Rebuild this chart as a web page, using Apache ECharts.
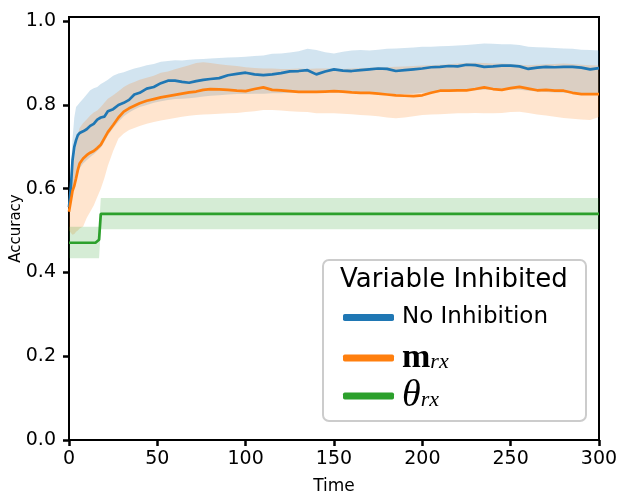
<!DOCTYPE html>
<html>
<head>
<meta charset="utf-8">
<script src="https://cdn.jsdelivr.net/npm/echarts@6/dist/echarts.min.js"></script>
<style>
  html, body { margin: 0; padding: 0; background: #ffffff; }
  #chart { width: 621px; height: 494px; }
</style>
</head>
<body>
<div id="chart"></div>
<script>
// Shared time axis for the two learning curves
const time = [0, 1, 2, 3, 4, 5, 6, 8, 10, 12, 14, 16, 18, 20, 22, 25, 28, 31, 34, 37, 40,
  44, 48, 52, 56, 60, 64, 68, 72, 76, 80, 85, 90, 95, 100, 105, 110, 115, 120, 125, 130,
  135, 140, 145, 150, 155, 160, 165, 170, 175, 180, 185, 190, 195, 200, 205, 210, 215, 220,
  225, 230, 235, 240, 245, 250, 255, 260, 265, 270, 275, 280, 285, 290, 295, 300];

// No inhibition: mean accuracy and the shaded spread
const noInhMean = [0.556, 0.600, 0.668, 0.700, 0.716, 0.728, 0.733, 0.737, 0.742, 0.750, 0.755,
  0.765, 0.770, 0.772, 0.785, 0.790, 0.800, 0.805, 0.812, 0.825, 0.829, 0.839, 0.843, 0.852,
  0.858, 0.858, 0.855, 0.853, 0.857, 0.860, 0.862, 0.864, 0.871, 0.874, 0.877, 0.873, 0.871,
  0.873, 0.876, 0.880, 0.881, 0.883, 0.873, 0.880, 0.885, 0.882, 0.881, 0.883, 0.885, 0.887,
  0.886, 0.881, 0.883, 0.885, 0.887, 0.890, 0.891, 0.893, 0.892, 0.896, 0.895, 0.891, 0.892,
  0.894, 0.894, 0.892, 0.886, 0.889, 0.891, 0.890, 0.891, 0.891, 0.889, 0.885, 0.888];
const noInhHigh = [0.570, 0.640, 0.720, 0.770, 0.795, 0.800, 0.805, 0.815, 0.825, 0.835, 0.840,
  0.843, 0.850, 0.855, 0.860, 0.870, 0.875, 0.878, 0.883, 0.887, 0.890, 0.895, 0.898, 0.903,
  0.905, 0.907, 0.906, 0.908, 0.909, 0.910, 0.911, 0.912, 0.913, 0.914, 0.915, 0.917, 0.918,
  0.922, 0.923, 0.925, 0.928, 0.934, 0.931, 0.926, 0.923, 0.927, 0.930, 0.931, 0.930, 0.932,
  0.934, 0.935, 0.936, 0.937, 0.939, 0.939, 0.940, 0.941, 0.942, 0.943, 0.945, 0.947, 0.946,
  0.945, 0.945, 0.943, 0.939, 0.938, 0.937, 0.936, 0.935, 0.934, 0.932, 0.931, 0.930];
const noInhLow = [0.540, 0.560, 0.590, 0.605, 0.620, 0.635, 0.648, 0.660, 0.668, 0.676, 0.682,
  0.690, 0.698, 0.712, 0.727, 0.745, 0.760, 0.773, 0.782, 0.789, 0.795, 0.800, 0.805, 0.809,
  0.812, 0.814, 0.815, 0.816, 0.818, 0.820, 0.822, 0.823, 0.825, 0.826, 0.826, 0.827, 0.827,
  0.828, 0.828, 0.829, 0.829, 0.829, 0.829, 0.830, 0.830, 0.830, 0.829, 0.828, 0.828, 0.827,
  0.826, 0.825, 0.826, 0.827, 0.829, 0.830, 0.831, 0.832, 0.833, 0.834, 0.835, 0.836, 0.836,
  0.836, 0.836, 0.836, 0.834, 0.832, 0.831, 0.830, 0.829, 0.828, 0.826, 0.825, 0.825];

// m_rx inhibited
const mMean = [0.545, 0.570, 0.595, 0.607, 0.625, 0.645, 0.660, 0.672, 0.680, 0.686, 0.690,
  0.697, 0.705, 0.720, 0.735, 0.752, 0.770, 0.784, 0.792, 0.798, 0.804, 0.810, 0.814, 0.818,
  0.821, 0.824, 0.827, 0.830, 0.832, 0.836, 0.838, 0.837, 0.836, 0.834, 0.833, 0.838, 0.842,
  0.836, 0.835, 0.833, 0.831, 0.831, 0.831, 0.832, 0.833, 0.832, 0.830, 0.829, 0.829, 0.827,
  0.825, 0.823, 0.822, 0.821, 0.823, 0.829, 0.834, 0.834, 0.835, 0.835, 0.838, 0.842, 0.838,
  0.836, 0.840, 0.843, 0.839, 0.835, 0.836, 0.834, 0.834, 0.829, 0.826, 0.826, 0.826];
const mHigh = [0.560, 0.600, 0.640, 0.670, 0.700, 0.730, 0.745, 0.757, 0.765, 0.775, 0.782,
  0.787, 0.795, 0.805, 0.815, 0.823, 0.833, 0.843, 0.850, 0.855, 0.860, 0.865, 0.870, 0.877,
  0.880, 0.885, 0.890, 0.895, 0.900, 0.902, 0.900, 0.897, 0.895, 0.893, 0.890, 0.888, 0.887,
  0.887, 0.886, 0.886, 0.887, 0.886, 0.887, 0.887, 0.887, 0.886, 0.887, 0.888, 0.889, 0.890,
  0.890, 0.891, 0.892, 0.893, 0.894, 0.895, 0.896, 0.897, 0.899, 0.900, 0.901, 0.900, 0.899,
  0.899, 0.898, 0.896, 0.895, 0.896, 0.897, 0.898, 0.899, 0.898, 0.896, 0.895, 0.894];
const mLow = [0.500, 0.495, 0.490, 0.492, 0.497, 0.500, 0.505, 0.510, 0.530, 0.545, 0.560,
  0.580, 0.600, 0.625, 0.655, 0.690, 0.720, 0.732, 0.740, 0.745, 0.750, 0.755, 0.759, 0.763,
  0.766, 0.769, 0.772, 0.774, 0.776, 0.777, 0.778, 0.779, 0.780, 0.781, 0.783, 0.785, 0.788,
  0.788, 0.787, 0.785, 0.784, 0.783, 0.780, 0.780, 0.780, 0.779, 0.778, 0.776, 0.775, 0.773,
  0.770, 0.768, 0.770, 0.773, 0.776, 0.777, 0.778, 0.779, 0.780, 0.780, 0.781, 0.780, 0.780,
  0.781, 0.783, 0.784, 0.781, 0.777, 0.775, 0.772, 0.769, 0.767, 0.765, 0.764, 0.771];

// theta_rx inhibited: flat with a single step up
const thetaTime = [0, 15, 16, 17, 18, 300];
const thetaMean = [0.471, 0.471, 0.473, 0.478, 0.540, 0.540];
const thetaHigh = [0.509, 0.509, 0.509, 0.509, 0.578, 0.578];
const thetaLow = [0.434, 0.434, 0.434, 0.434, 0.503, 0.503];

const xTicks = [0, 50, 100, 150, 200, 250, 300];
const yTicks = [0, 0.2, 0.4, 0.6, 0.8, 1.0];

const BLUE = '#1f77b4', ORANGE = '#ff7f0e', GREEN = '#2ca02c';
const FONT = 'DejaVu Sans';

function pairs(xs, ys) { return xs.map((x, i) => [x, ys[i]]); }

// Shaded band between low and high, drawn through the grid's coordinate system
function band(name, xs, lo, hi, fill) {
  return {
    type: 'custom',
    name: name,
    silent: true,
    z: 1,
    data: [[xs[0], lo[0]]],
    renderItem: function (params, api) {
      const pts = [];
      for (let i = 0; i < xs.length; i++) pts.push(api.coord([xs[i], hi[i]]));
      for (let i = xs.length - 1; i >= 0; i--) pts.push(api.coord([xs[i], lo[i]]));
      return { type: 'polygon', shape: { points: pts }, style: { fill: fill } };
    }
  };
}

function meanLine(name, xs, ys, color) {
  return {
    type: 'line', name: name, data: pairs(xs, ys), showSymbol: false, z: 3,
    color: color, lineStyle: { color: color, width: 2.7 }, animation: false
  };
}

const legendRich = {
  t: { fontFamily: FONT, fontSize: 23, color: '#000', lineHeight: 30 },
  mb: { fontFamily: 'Liberation Serif', fontWeight: 'bold', fontSize: 34, color: '#000', lineHeight: 30 },
  th: { fontFamily: 'Liberation Serif', fontStyle: 'italic', fontSize: 38, color: '#000', lineHeight: 30 },
  sub: { fontFamily: 'Liberation Serif', fontStyle: 'italic', fontSize: 22, color: '#000', lineHeight: 14, verticalAlign: 'bottom' }
};
const legendLabel = {
  'No Inhibition': '{t|No Inhibition}',
  'mrx': '{mb|m}{sub|rx}',
  'θrx': '{th|θ}{sub|rx}'
};
function legendItem(name, top) {
  return {
    data: [name], orient: 'vertical', left: 343, top: top, padding: 0,
    icon: 'roundRect', itemWidth: 51, itemHeight: 7, itemGap: 0,
    selectedMode: false, z: 6,
    formatter: n => legendLabel[n],
    textStyle: { rich: legendRich, padding: [0, 0, 0, 3] }
  };
}

const chart = echarts.init(document.getElementById('chart'), null, { renderer: 'canvas' });
chart.setOption({
  animation: false,
  backgroundColor: '#ffffff',
  grid: { left: 69, right: 22, top: 17, bottom: 54, outerBoundsMode: 'none', containLabel: false,
    show: true, borderColor: '#000', borderWidth: 2, backgroundColor: 'transparent' },
  xAxis: {
    type: 'value', min: 0, max: 300, interval: 50,
    name: 'Time', nameLocation: 'middle', nameGap: 38,
    nameTextStyle: { fontFamily: FONT, fontSize: 17, color: '#000' },
    axisLine: { lineStyle: { color: '#000', width: 2 } },
    axisTick: { customValues: xTicks, length: 6, lineStyle: { color: '#000', width: 2.5 } },
    axisLabel: { customValues: xTicks, margin: 10, fontFamily: FONT, fontSize: 19, color: '#000' },
    splitLine: { show: false }
  },
  yAxis: {
    type: 'value', min: 0, max: 1.01,
    name: 'Accuracy', nameLocation: 'middle', nameGap: 45, nameRotate: 90, nameMoveOverlap: false,
    nameTextStyle: { fontFamily: FONT, fontSize: 15, color: '#000' },
    axisLine: { lineStyle: { color: '#000', width: 2 } },
    axisTick: { customValues: yTicks, length: 6, lineStyle: { color: '#000', width: 2.5 } },
    axisLabel: { customValues: yTicks, margin: 13, fontFamily: FONT, fontSize: 19, color: '#000',
      formatter: v => v.toFixed(1) },
    splitLine: { show: false }
  },
  legend: [
    legendItem('No Inhibition', 306),
    legendItem('mrx', 341),
    legendItem('θrx', 377)
  ],
  graphic: [
    {
      type: 'rect', left: 322, top: 259, z: 5,
      shape: { width: 263, height: 161, r: 6 },
      style: { fill: 'rgba(255,255,255,0.8)', stroke: '#cccccc', lineWidth: 2 }
    },
    {
      type: 'text', left: 340, top: 267, z: 6,
      style: { text: 'Variable Inhibited', font: '26px "DejaVu Sans"', fill: '#000' }
    }
  ],
  series: [
    band('bandNoInh', time, noInhLow, noInhHigh, 'rgba(31,119,180,0.2)'),
    band('bandM', time, mLow, mHigh, 'rgba(255,127,14,0.2)'),
    band('bandTheta', thetaTime, thetaLow, thetaHigh, 'rgba(44,160,44,0.2)'),
    meanLine('No Inhibition', time, noInhMean, BLUE),
    meanLine('mrx', time, mMean, ORANGE),
    meanLine('θrx', thetaTime, thetaMean, GREEN)
  ]
});
</script>
</body>
</html>
